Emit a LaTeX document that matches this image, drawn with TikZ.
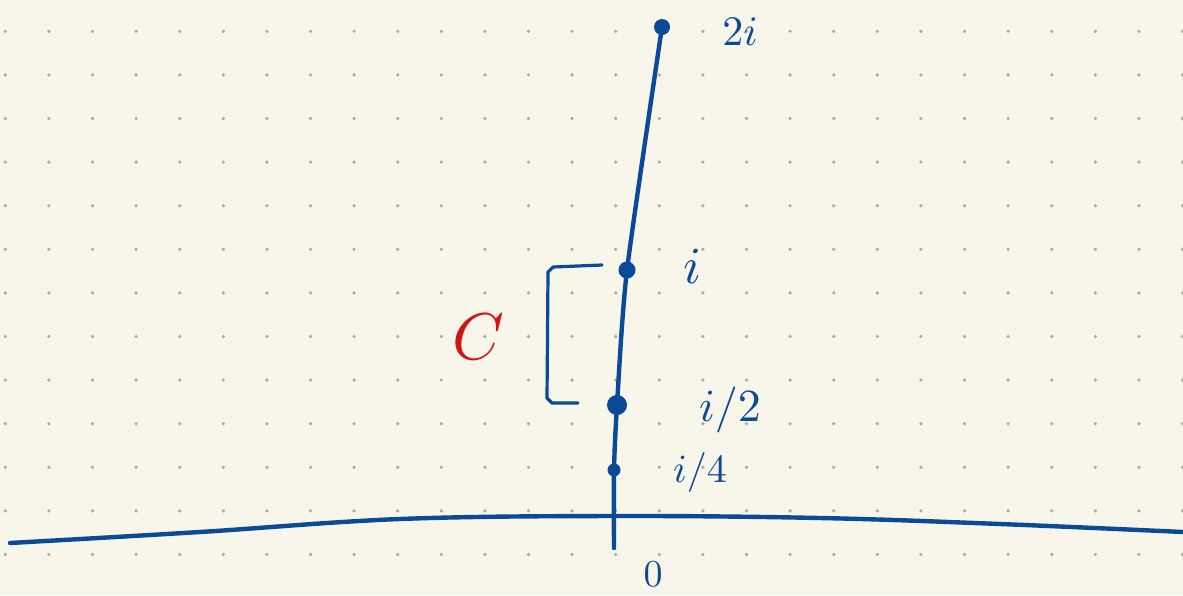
\documentclass[tikz,border=0pt]{standalone}
\usepackage{amsmath,amssymb}
\usepackage{graphicx}
\usepackage{tikz}
\usetikzlibrary{calc,positioning}
\definecolor{PaperBg}{HTML}{F8F5EA}
\definecolor{GridDot}{HTML}{ADAAA2}
\definecolor{InkBlue}{HTML}{0B4A96}
\definecolor{InkRed}{HTML}{D11414}
\tikzset{
    penline/.style={draw=InkBlue, line width=4.4pt, line cap=round, line join=round},
    pointdot/.style={circle, fill=InkBlue, inner sep=0pt},
    handlabel/.style={text=InkBlue, inner sep=0pt}
}
\newcommand{\inklabel}[2]{\scalebox{#1}{$#2$}}

\begin{document}
\begin{tikzpicture}[x=1pt,y=-1pt]
    % paper and dot grid
    \fill[PaperBg] (0,0) rectangle (1183,595);
    \useasboundingbox (0,0) rectangle (1183,595);
    \foreach \col in {0,...,27} {
        \foreach \row in {0,...,13} {
            \fill[GridDot] ({5.3+43.6*\col},{31.3+43.6*\row}) circle (1.8);
        }
    }

    % points on the imaginary axis
    \coordinate (origin) at (614,548);
    \coordinate (quarter) at (614,470);
    \coordinate (half) at (617,405);
    \coordinate (unit) at (627,270);
    \coordinate (twoi) at (662,27);

    % real axis
    \draw[penline] plot[smooth, tension=0.6] coordinates {(10,543) (200,532) (400,519) (614,516) (820,518) (1000,524) (1183,532)};
    % imaginary axis
    \draw[penline] plot[smooth, tension=0.4] coordinates {(origin) (quarter) (half) (unit) (twoi)};

    \node[pointdot, minimum size=16pt] (twoidot) at (twoi) {};
    \node[pointdot, minimum size=17pt] (unitdot) at (unit) {};
    \node[pointdot, minimum size=20pt] (halfdot) at (half) {};
    \node[pointdot, minimum size=13pt] (quarterdot) at (quarter) {};

    \node[handlabel] (twoilabel) at (740,32) {\inklabel{4.2}{2i}};
    \node[handlabel] (unitlabel) at (692,266) {\inklabel{5.2}{i}};
    \node[handlabel] (halflabel) at (730,410) {\inklabel{4.6}{i/2}};
    \node[handlabel] (quarterlabel) at (700,472) {\inklabel{4}{i/4}};
    \node[handlabel] (originlabel) at (653,574) {\inklabel{3.8}{0}};

    % bracket and curve name
    \coordinate (brtop) at (602,265);
    \coordinate (brbot) at (578,403);
    \draw[InkBlue, line width=3.2pt, line cap=round, line join=round]
        (brtop) -- (553,267) -- (548,272) -- (547,398) -- (552,403) -- (brbot);
    \node[text=InkRed, inner sep=0pt] (curvename) at (478,337) {\inklabel{6.6}{C}};
\end{tikzpicture}
\end{document}
